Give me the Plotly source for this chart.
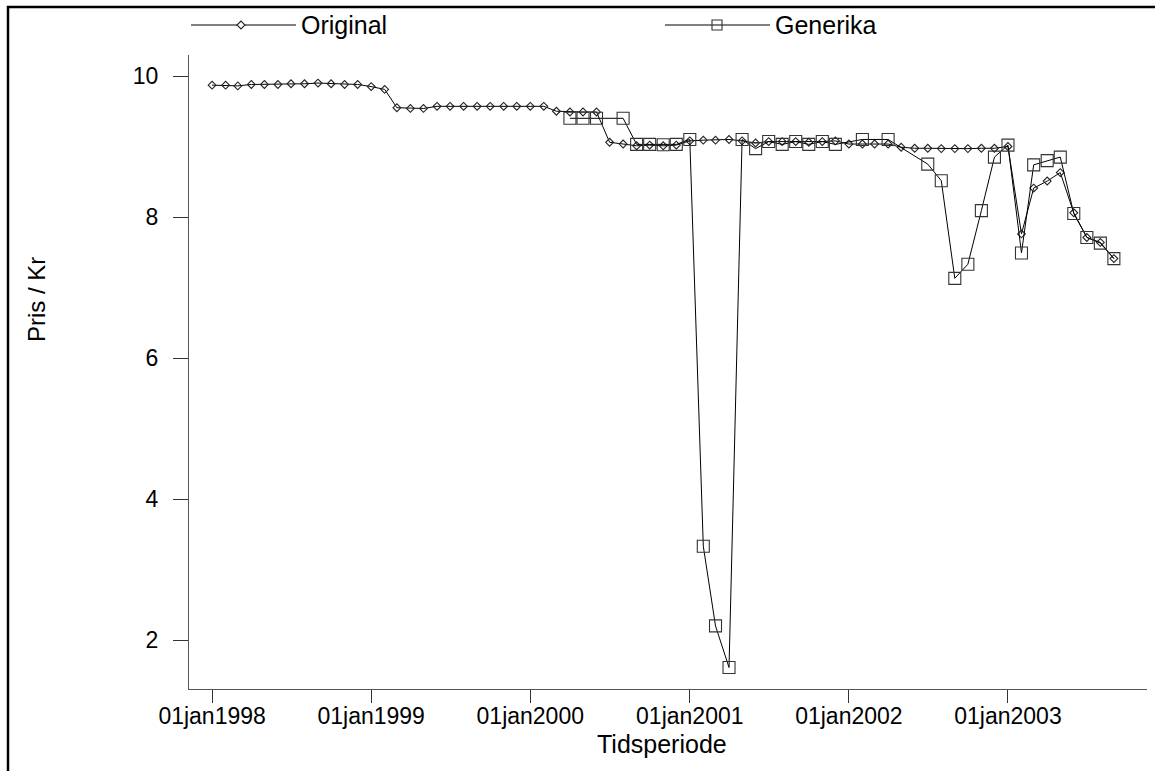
import pandas as pd
import plotly.graph_objects as go

# ---- data ----
months = pd.date_range("1998-01-01", "2003-09-01", freq="MS")

original = [9.87, 9.87, 9.86, 9.88, 9.88, 9.88, 9.89, 9.89, 9.90, 9.89, 9.88, 9.88,
            9.85, 9.81, 9.55, 9.54, 9.54, 9.57, 9.57, 9.57, 9.57, 9.57, 9.57, 9.57,
            9.57, 9.57, 9.50, 9.49, 9.49, 9.49, 9.06, 9.035, 9.01, 9.02, 9.01, 9.02,
            9.08, 9.09, 9.09, 9.10, 9.08, 9.05, 9.07, 9.07, 9.07, 9.06, 9.07, 9.08,
            9.035, 9.035, 9.035, 9.035, 8.99, 8.975, 8.975, 8.97, 8.97, 8.97, 8.975, 8.975,
            9.00, 7.76, 8.41, 8.51, 8.63, 8.06, 7.71, 7.64, 7.41]

generika = [None] * 27 + [
    9.40, 9.40, 9.40, None, 9.40, 9.03, 9.03, 9.025, 9.03,
    9.10, 3.33, 2.20, 1.61, 9.10, 8.97, 9.07, 9.03, 9.07, 9.03, 9.07, 9.03,
    None, 9.10, None, 9.10, None, None, 8.75, 8.515, 7.13, 7.33, 8.09, 8.85,
    9.02, 7.49, 8.74, 8.80, 8.85, 8.05, 7.71, 7.63, 7.41]

y_ticks = [2, 4, 6, 8, 10]
x_ticks = ["1998-01-01", "1999-01-01", "2000-01-01", "2001-01-01", "2002-01-01", "2003-01-01"]
x_ticklabels = ["01jan1998", "01jan1999", "01jan2000", "01jan2001", "01jan2002", "01jan2003"]
series_names = ["Original", "Generika"]

# ---- layout geometry (pixels) ----
W, H = 1155, 771
L, R, T, B = 189, 1147, 55, 689
FONT = "Liberation Sans, Arial, sans-serif"


def px_x(p):
    return (p - L) / (R - L)


def px_y(p):
    return (B - p) / (B - T)


fig = go.Figure()

fig.add_trace(go.Scatter(
    x=months, y=original, mode="lines+markers", name=series_names[0],
    line=dict(color="black", width=1),
    marker=dict(symbol="diamond-open", size=6, color="#222", line=dict(width=1.1, color="#222")),
    showlegend=False,
))
fig.add_trace(go.Scatter(
    x=months, y=generika, mode="lines+markers", name=series_names[1],
    connectgaps=True,
    line=dict(color="black", width=1),
    marker=dict(symbol="square-open", size=12, color="#333", line=dict(width=1.1, color="#333")),
    showlegend=False,
))

# ---- custom legend (drawn in paper space) ----
leg_y = 25
legend_items = [(191, 296, 241), (665, 770, 717)]
for i, (x0, x1, xm) in enumerate(legend_items):
    fig.add_shape(type="line", xref="paper", yref="paper",
                  x0=px_x(x0), x1=px_x(x1), y0=px_y(leg_y), y1=px_y(leg_y),
                  line=dict(color="black", width=1), layer="above")
    fig.add_annotation(x=px_x(x1 + 3), y=px_y(leg_y), xref="paper", yref="paper",
                       text=series_names[i], showarrow=False, xanchor="left", yanchor="middle",
                       font=dict(family=FONT, size=25, color="black"))
# legend glyphs
d = 4
xm = legend_items[0][2]
fig.add_shape(type="path", xref="paper", yref="paper",
              path=(f"M {px_x(xm - d)} {px_y(leg_y)} L {px_x(xm)} {px_y(leg_y - d)} "
                    f"L {px_x(xm + d)} {px_y(leg_y)} L {px_x(xm)} {px_y(leg_y + d)} Z"),
              line=dict(color="#222", width=1.1), fillcolor="white", layer="above")
s = 5
xm = legend_items[1][2]
fig.add_shape(type="rect", xref="paper", yref="paper",
              x0=px_x(xm - s), x1=px_x(xm + s), y0=px_y(leg_y + s), y1=px_y(leg_y - s),
              line=dict(color="#333", width=1.1), fillcolor="rgba(0,0,0,0)", layer="above")

fig.update_layout(
    width=W, height=H,
    margin=dict(l=L, r=W - R, t=T, b=H - B),
    paper_bgcolor="white", plot_bgcolor="white",
    font=dict(family=FONT, color="black"),
    showlegend=False,
    xaxis=dict(
        range=["1997-11-09", "2003-11-16"],
        tickvals=x_ticks, ticktext=x_ticklabels,
        showgrid=False, zeroline=False,
        showline=True, linecolor="#555", linewidth=1.3,
        ticks="outside", ticklen=13, tickwidth=1, tickcolor="#333",
        ticklabelstandoff=-7,
        tickfont=dict(family=FONT, size=23, color="black"),
    ),
    yaxis=dict(
        range=[1.305, 10.298],
        tickvals=y_ticks,
        showgrid=False, zeroline=False,
        showline=True, linecolor="#555", linewidth=1.3,
        ticks="outside", ticklen=15, tickwidth=1, tickcolor="#333",
        ticklabelstandoff=10,
        tickfont=dict(family=FONT, size=23, color="black"),
    ),
)

# axis titles
fig.add_annotation(x=px_x(662), y=px_y(744), xref="paper", yref="paper", text="Tidsperiode",
                   showarrow=False, xanchor="center", yanchor="middle",
                   font=dict(family=FONT, size=25, color="black"))
fig.add_annotation(x=px_x(36), y=px_y(300), xref="paper", yref="paper", text="Pris / Kr",
                   showarrow=False, textangle=-90, xanchor="center", yanchor="middle",
                   font=dict(family=FONT, size=24, color="black"))

# outer frame (only left and top edges visible in the picture)
fig.add_shape(type="rect", xref="paper", yref="paper",
              x0=px_x(8), x1=px_x(1175), y0=px_y(800), y1=px_y(7),
              line=dict(color="black", width=2.5), fillcolor="rgba(0,0,0,0)", layer="above")

fig.write_html("out.html", config={"displayModeBar": False},
               post_script="document.body.style.margin='0';")
